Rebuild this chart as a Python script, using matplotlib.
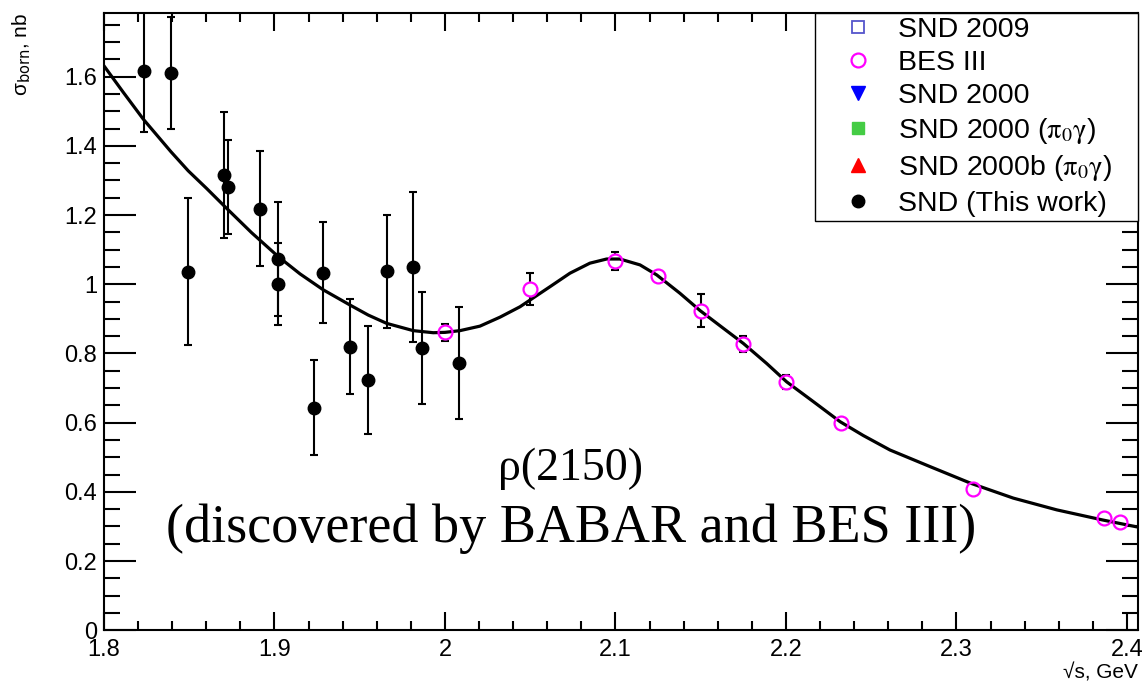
import matplotlib
matplotlib.use("Agg")
import matplotlib.pyplot as plt
from matplotlib.lines import Line2D
from matplotlib.ticker import MultipleLocator, FuncFormatter

# SND (this work): energy, cross section and error
snd_x = [1.8236, 1.8393, 1.8494, 1.8704, 1.8729, 1.8915, 1.9022, 1.9022,
         1.9232, 1.9286, 1.9445, 1.9550, 1.9658, 1.9814, 1.9867, 2.0082]
snd_y = [1.617, 1.610, 1.036, 1.316, 1.282, 1.218, 1.072, 1.001,
         0.643, 1.034, 0.820, 0.723, 1.038, 1.051, 0.816, 0.773]
snd_err = [0.176, 0.162, 0.212, 0.183, 0.136, 0.166, 0.165, 0.119,
           0.137, 0.145, 0.138, 0.156, 0.163, 0.217, 0.162, 0.162]

# BES III points
bes_x = [2.0, 2.05, 2.1, 2.125, 2.15, 2.175, 2.2, 2.2324, 2.3094, 2.3864, 2.396]
bes_y = [0.861, 0.986, 1.066, 1.024, 0.924, 0.827, 0.718, 0.600, 0.409, 0.325, 0.312]
bes_err = [0.025, 0.047, 0.026, 0.012, 0.047, 0.024, 0.020, 0.012, 0.010, 0.010, 0.010]

# fit curve
fit_x = [1.7996, 1.8113, 1.8231, 1.8393, 1.8494, 1.8602, 1.8710, 1.8866, 1.9022,
         1.9150, 1.9286, 1.9443, 1.9550, 1.9658, 1.9814, 1.9931, 2.0000, 2.0088,
         2.0205, 2.0323, 2.0440, 2.0616, 2.0733, 2.0850, 2.0948, 2.1026, 2.1144,
         2.1242, 2.1378, 2.1496, 2.1632, 2.1750, 2.1887, 2.2004, 2.2160, 2.2317,
         2.2453, 2.2610, 2.2845, 2.3083, 2.3333, 2.3588, 2.3855, 2.4066]
fit_y = [1.634, 1.555, 1.477, 1.383, 1.328, 1.277, 1.224, 1.149, 1.080,
         1.030, 0.984, 0.940, 0.911, 0.887, 0.866, 0.860, 0.861, 0.866,
         0.879, 0.905, 0.935, 0.993, 1.032, 1.061, 1.073, 1.073, 1.056,
         1.027, 0.974, 0.924, 0.873, 0.829, 0.771, 0.718, 0.661, 0.603,
         0.563, 0.521, 0.473, 0.425, 0.382, 0.348, 0.319, 0.298]

x_range = (1.8, 2.4066)
y_range = (0, 1.785)

legend_labels = ["SND 2009", "BES III", "SND 2000",
                 r"SND 2000 ($\mathrm{\pi}_0\mathrm{\gamma}$)",
                 r"SND 2000b ($\mathrm{\pi}_0\mathrm{\gamma}$)", "SND (This work)"]

sans = ["Liberation Sans", "DejaVu Sans"]
plt.rcParams["font.family"] = sans

fig = plt.figure(figsize=(11.45, 6.85), dpi=100)
ax = fig.add_axes([0.0908, 0.0799, 0.9033, 0.9016])

# BES III error bars (white marker hides the bar inside the open circle)
ax.errorbar(bes_x, bes_y, yerr=bes_err, fmt="o", ms=10, mfc="white", mec="white",
            ecolor="black", elinewidth=1.5, capsize=3, capthick=1.5, zorder=2)
ax.plot(fit_x, fit_y, color="black", lw=2.3, zorder=3)
ax.plot(bes_x, bes_y, "o", ms=10, mfc="none", mec="magenta", mew=1.6, zorder=4)

# SND points
ax.errorbar(snd_x, snd_y, yerr=snd_err, fmt="o", ms=9, color="black",
            elinewidth=1.5, capsize=3, capthick=1.5, zorder=5)

ax.set_xlim(*x_range)
ax.set_ylim(*y_range)

ax.xaxis.set_major_locator(MultipleLocator(0.1))
ax.xaxis.set_minor_locator(MultipleLocator(0.02))
ax.yaxis.set_major_locator(MultipleLocator(0.2))
ax.yaxis.set_minor_locator(MultipleLocator(0.05))
fmt = FuncFormatter(lambda v, p: "{:g}".format(round(v, 3)))
ax.xaxis.set_major_formatter(fmt)
ax.yaxis.set_major_formatter(fmt)

ax.tick_params(axis="both", which="both", direction="in", top=True, right=True,
               width=1.5, labelsize=17)
ax.tick_params(axis="x", which="major", length=13, pad=6)
ax.tick_params(axis="x", which="minor", length=6.5)
ax.tick_params(axis="y", which="major", length=23, pad=5)
ax.tick_params(axis="y", which="minor", length=11.5)
for s in ax.spines.values():
    s.set_linewidth(1.5)

# axis titles in ROOT style
fig.text(0.0192, 0.981, r"σ$_{\rm born}$, nb", rotation=90, ha="center",
         va="top", fontsize=15)
fig.text(0.9935, 0.004, "√s, GeV", ha="right", va="bottom", fontsize=15,
         family=sans)

# legend
handles = [
    Line2D([], [], ls="none", marker="s", ms=9, mfc="none", mec="#5555cc", mew=1.3),
    Line2D([], [], ls="none", marker="o", ms=10, mfc="none", mec="magenta", mew=1.6),
    Line2D([], [], ls="none", marker="v", ms=10, color="#0000ff"),
    Line2D([], [], ls="none", marker="s", ms=9, color="#44cc44"),
    Line2D([], [], ls="none", marker="^", ms=10, color="#ff0000"),
    Line2D([], [], ls="none", marker="o", ms=9, color="black"),
]
x0 = (815 - 104) / 1034.3
leg = ax.legend(handles, legend_labels, loc="upper left",
                bbox_to_anchor=(x0, 0, 1 - x0, 1), mode="expand",
                borderaxespad=0, fontsize=20.5, labelspacing=0.25,
                handlelength=2.75, handletextpad=0.0, borderpad=0.15,
                fancybox=False, framealpha=1, edgecolor="black")
leg.get_frame().set_linewidth(1.0)
for t in leg.get_texts():
    t.set_math_fontfamily("stix")

# annotation
serif = ["Liberation Serif", "DejaVu Serif"]
ax.text(0.4515, 0.243, "ρ(2150)", transform=ax.transAxes, ha="center",
        va="baseline", fontsize=33, family=serif)
ax.text(0.4515, 0.143, "(discovered by BABAR and BES III)", transform=ax.transAxes,
        ha="center", va="baseline", fontsize=39, family=serif)

fig.savefig("out.png", dpi=100)
